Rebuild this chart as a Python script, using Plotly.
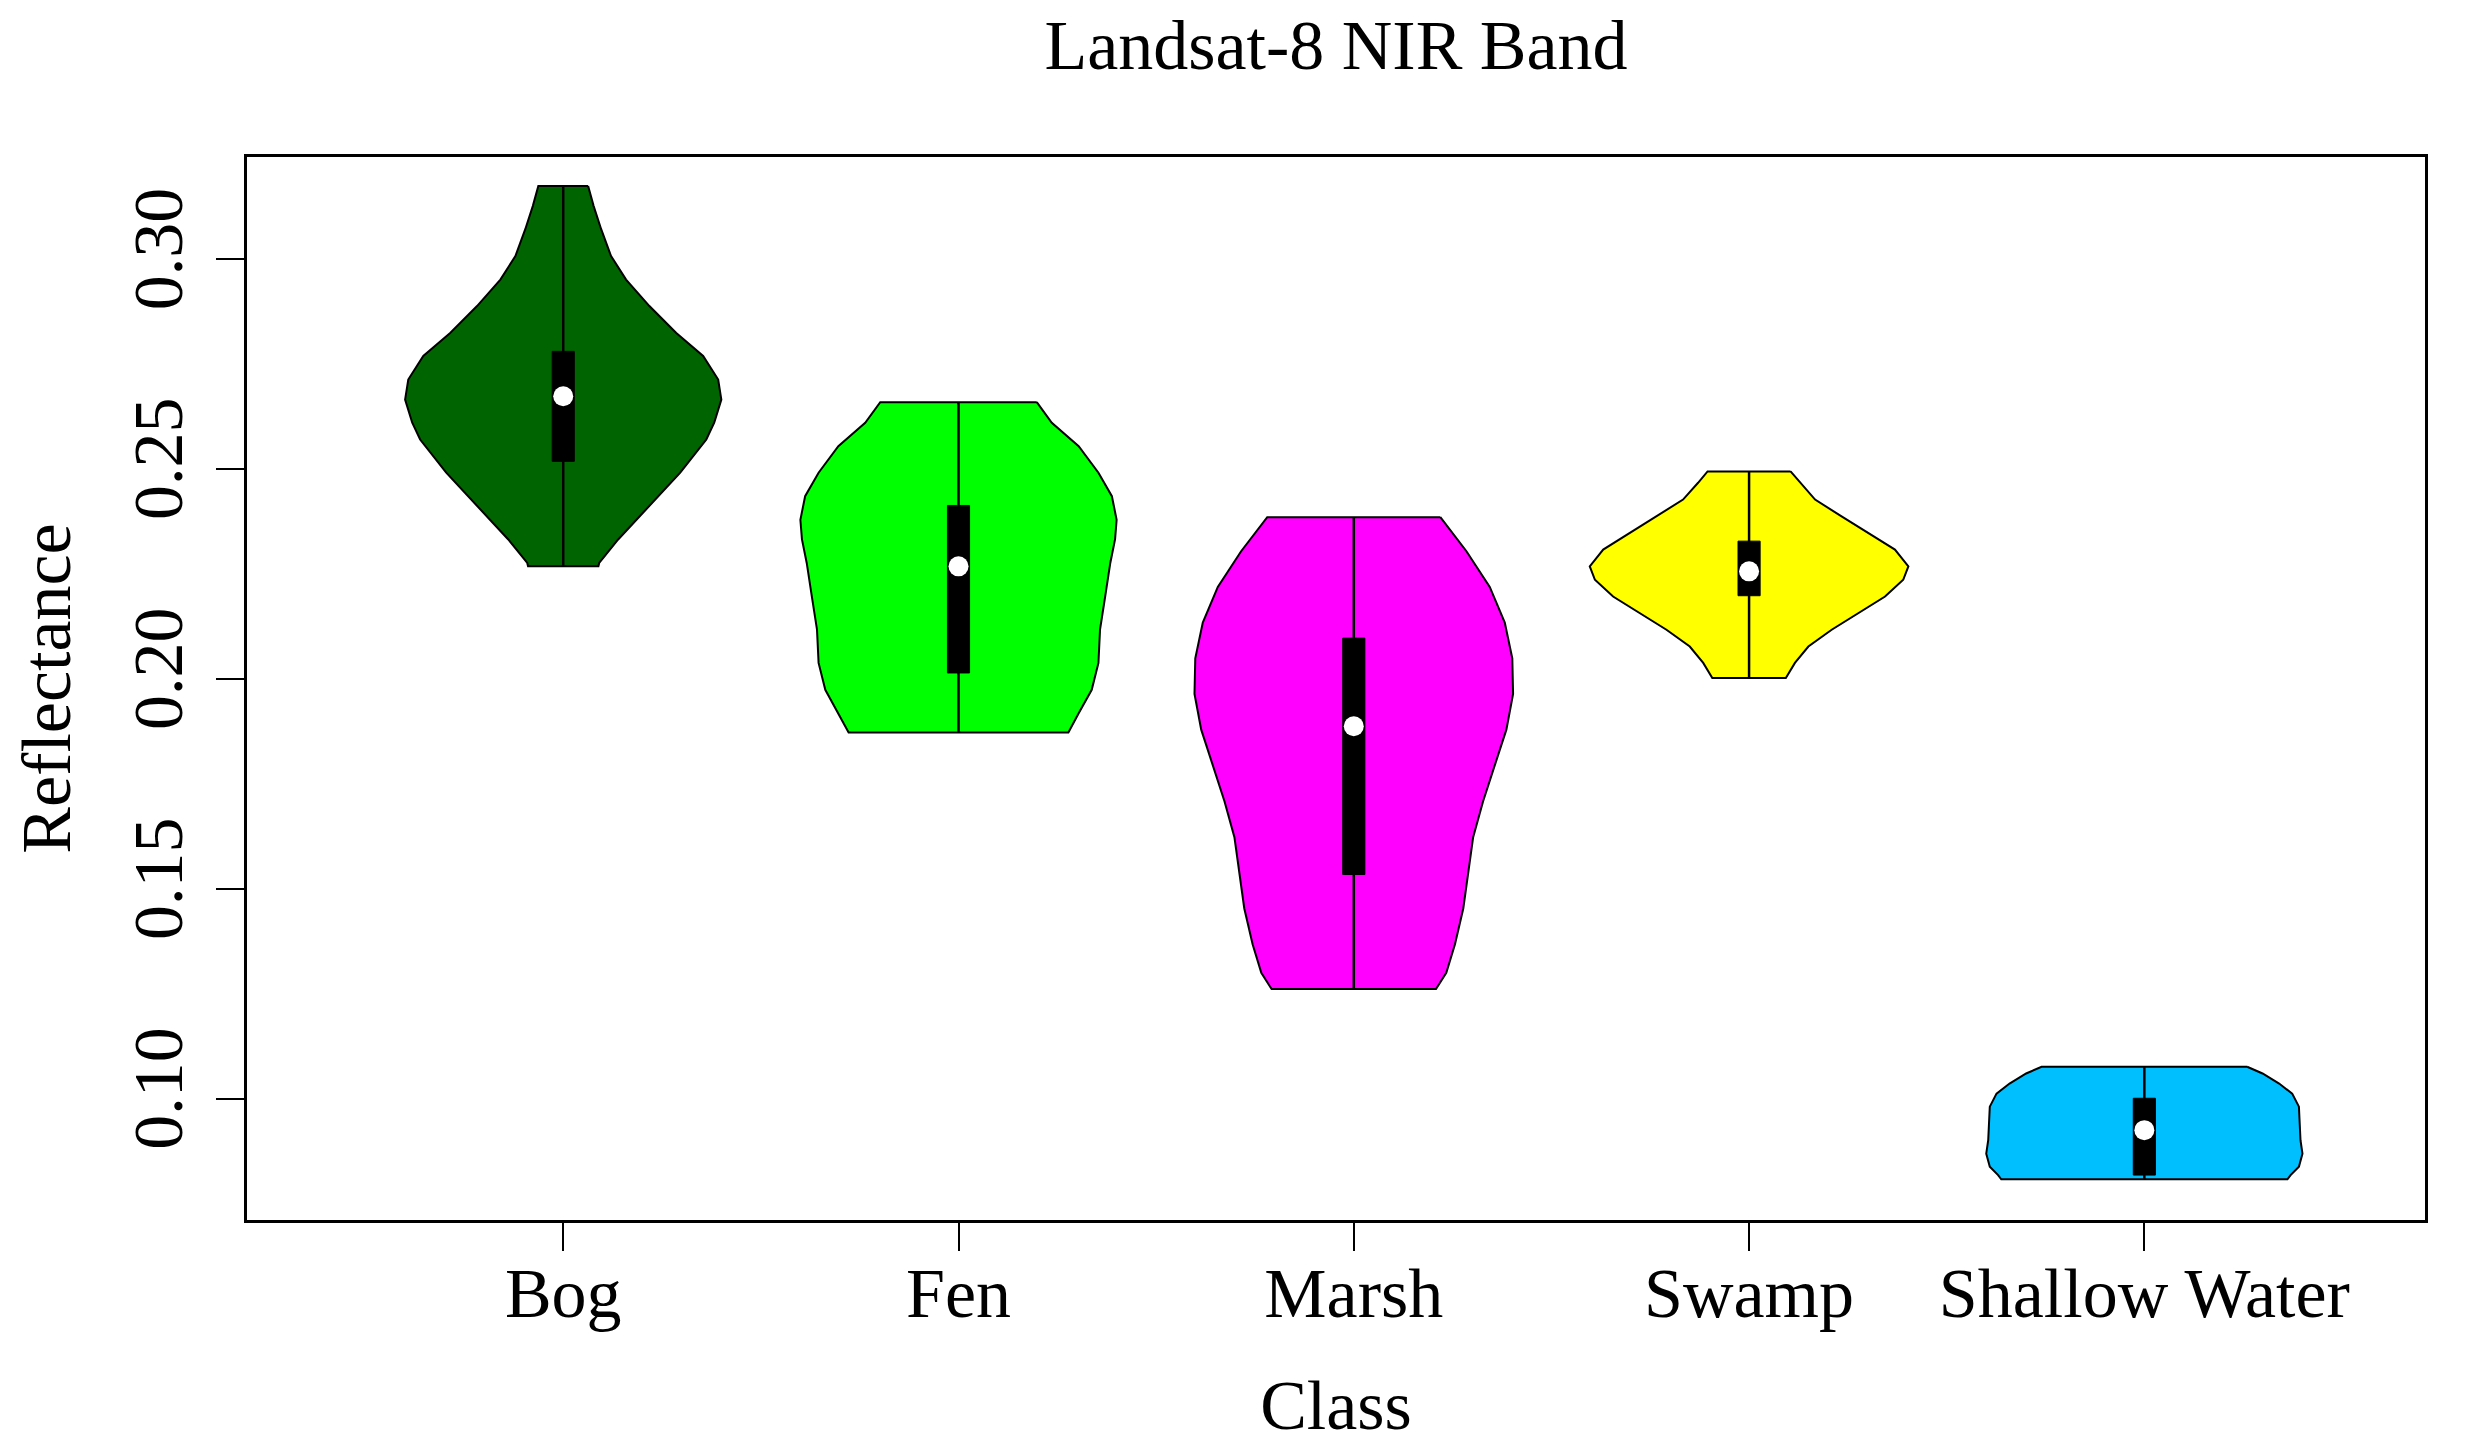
import plotly.graph_objects as go

classes = ['Bog', 'Fen', 'Marsh', 'Swamp', 'Shallow Water']
fill_colors = ['#006400', '#00ff00', '#ff00ff', '#ffff00', '#00bfff']

# violin outlines: reflectance levels (top to bottom)
# and the half width of the violin at each level (x axis units)
bog_y = [0.3175, 0.3127, 0.3072, 0.3008, 0.2952, 0.2889, 0.2825, 0.2770, 0.2714,
         0.2666, 0.2611, 0.2571, 0.2492, 0.2412, 0.2333, 0.2277, 0.2269]
bog_w = [0.063, 0.077, 0.096, 0.121, 0.159, 0.218, 0.286, 0.354, 0.392,
         0.400, 0.382, 0.362, 0.296, 0.218, 0.139, 0.091, 0.089]

fen_y = [0.2660, 0.2611, 0.2555, 0.2492, 0.2436, 0.2380, 0.2333, 0.2277, 0.2197,
         0.2118, 0.2039, 0.1975, 0.1919, 0.1873]
fen_w = [0.198, 0.236, 0.304, 0.354, 0.388, 0.400, 0.396, 0.384, 0.371,
         0.358, 0.354, 0.337, 0.304, 0.278]

marsh_y = [0.2386, 0.2305, 0.2220, 0.2135, 0.2050, 0.1965, 0.1880, 0.1794, 0.1709,
           0.1624, 0.1539, 0.1454, 0.1369, 0.1301, 0.1262]
marsh_w = [0.219, 0.285, 0.344, 0.382, 0.401, 0.403, 0.386, 0.357, 0.327,
           0.302, 0.289, 0.277, 0.256, 0.234, 0.208]

swamp_y = [0.2495, 0.2468, 0.2428, 0.2388, 0.2348, 0.2309, 0.2269, 0.2237, 0.2197,
           0.2158, 0.2118, 0.2078, 0.2039, 0.2003]
swamp_w = [0.105, 0.129, 0.167, 0.234, 0.302, 0.369, 0.403, 0.390, 0.344,
           0.277, 0.209, 0.150, 0.116, 0.093]

water_y = [0.1077, 0.1061, 0.1037, 0.1013, 0.0982, 0.0950, 0.0902, 0.0870, 0.0839,
           0.0819, 0.0809]
water_w = [0.260, 0.299, 0.341, 0.374, 0.391, 0.393, 0.395, 0.400, 0.391,
           0.370, 0.362]

# box (first / third quartile) and median for each class
q1 = [0.2519, 0.2015, 0.1535, 0.2199, 0.0819]
q3 = [0.2781, 0.2414, 0.2098, 0.2329, 0.1002]
medians = [0.2674, 0.2269, 0.1888, 0.2257, 0.0926]

y_ticks = [0.10, 0.15, 0.20, 0.25, 0.30]

profiles = [(bog_y, bog_w), (fen_y, fen_w), (marsh_y, marsh_w),
            (swamp_y, swamp_w), (water_y, water_w)]

FONT = 'Liberation Serif'
FSIZE = 70
BOX_HALF = 0.028

fig = go.Figure()

for i, name in enumerate(classes):
    pos = i + 1
    ys, ws = profiles[i]
    xs = [pos + w for w in ws] + [pos - w for w in reversed(ws)]
    yy = list(ys) + list(reversed(ys))
    fig.add_trace(go.Scatter(
        x=xs + [xs[0]], y=yy + [yy[0]], mode='lines', fill='toself',
        fillcolor=fill_colors[i], line=dict(color='black', width=2),
        showlegend=False, hoverinfo='skip'))
    # whisker line over the whole range
    fig.add_trace(go.Scatter(
        x=[pos, pos], y=[min(ys), max(ys)], mode='lines',
        line=dict(color='black', width=2.5), showlegend=False, hoverinfo='skip'))
    # quartile box
    fig.add_trace(go.Scatter(
        x=[pos - BOX_HALF, pos + BOX_HALF, pos + BOX_HALF, pos - BOX_HALF, pos - BOX_HALF],
        y=[q1[i], q1[i], q3[i], q3[i], q1[i]], mode='lines', fill='toself',
        fillcolor='black', line=dict(color='black', width=1),
        showlegend=False, hoverinfo='skip'))
    fig.add_trace(go.Scatter(
        x=[pos], y=[medians[i]], mode='markers',
        marker=dict(color='white', size=20, line=dict(width=0)),
        showlegend=False, hoverinfo='skip'))

# the page body adds an 8px margin, so the figure is 8px smaller than the window
fig.update_layout(
    width=2461, height=1445,
    margin=dict(l=239, r=44, t=149, b=233),
    paper_bgcolor='white', plot_bgcolor='white',
    font=dict(family=FONT, size=FSIZE, color='black'),
    title=dict(text='Landsat-8 NIR Band', x=0.5, xref='paper',
               y=1 - 36 / 1445, yref='container', yanchor='middle',
               font=dict(family=FONT, size=FSIZE, color='black')),
)
fig.update_xaxes(
    range=[0.2, 5.71], tickvals=list(range(1, len(classes) + 1)), ticktext=classes,
    showgrid=False, zeroline=False, showline=True, mirror=True,
    linecolor='black', linewidth=2.5, ticks='outside', ticklen=28,
    tickwidth=2, tickcolor='black', ticklabelstandoff=-18, automargin=False,
    title=dict(text='Class', standoff=50, font=dict(family=FONT, size=FSIZE)))
fig.update_yaxes(
    range=[0.0712, 0.3244], tickvals=y_ticks, ticktext=['%.2f' % v for v in y_ticks],
    tickangle=-90, showgrid=False, zeroline=False, showline=True, mirror=True,
    linecolor='black', linewidth=2.5, ticks='outside', ticklen=28,
    tickwidth=2, tickcolor='black', ticklabelstandoff=6, automargin=False,
    title=dict(text='Reflectance', standoff=32, font=dict(family=FONT, size=FSIZE)))

fig.write_html('out.html')
